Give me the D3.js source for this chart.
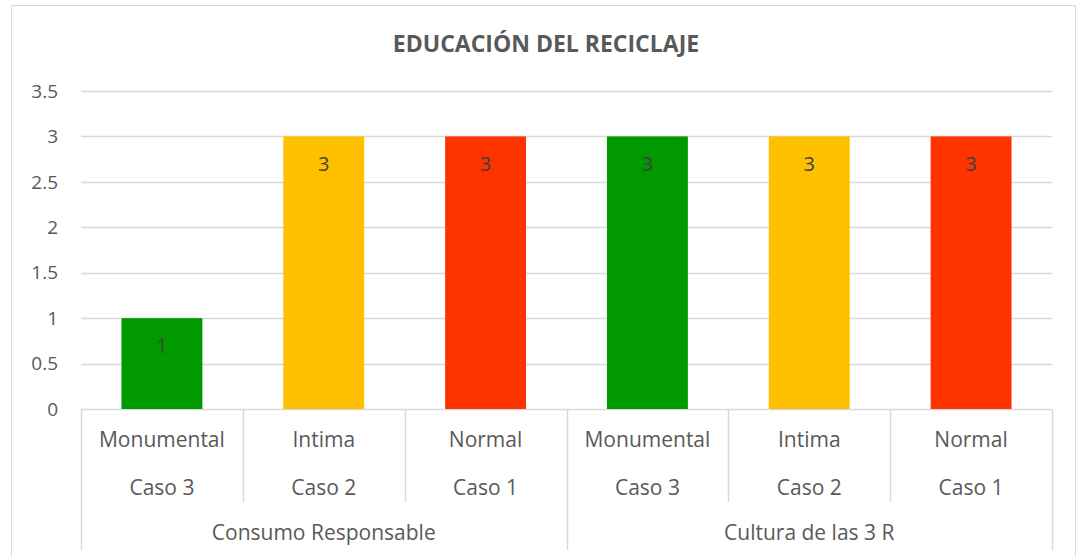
<!DOCTYPE html>
<html>
<head>
<meta charset="utf-8">
<script src="https://cdn.jsdelivr.net/npm/d3@7"></script>
<style>
  body { margin: 0; background: #fff; }
  text { font-family: "Open Sans", sans-serif; fill: #595959; }
</style>
</head>
<body>
<div class="grp"></div>
<script>
// data
var groups = ["Consumo Responsable", "Cultura de las 3 R"];
var tipos = ["Monumental", "Intima", "Normal"];
var casos = ["Caso 3", "Caso 2", "Caso 1"];
var values = [1, 3, 3, 3, 3, 3];
var colors = ["#009900", "#FFC000", "#FF3300"];
var yTicks = [0, 0.5, 1, 1.5, 2, 2.5, 3, 3.5];

var width = 1078, height = 557;
var plotLeft = 81, plotRight = 1052, plotTop = 91, plotBottom = 409;

var svg = d3.select(".grp").append("svg")
    .attr("width", width)
    .attr("height", height);

// chart border
svg.append("rect")
    .attr("x", 11.5).attr("y", 5.5)
    .attr("width", 1064).attr("height", 560)
    .attr("fill", "none").attr("stroke", "#d9d9d9");

svg.append("text")
    .attr("x", 546).attr("y", 52)
    .attr("text-anchor", "middle")
    .style("font-size", "23px").style("font-weight", "bold")
    .text("EDUCACIÓN DEL RECICLAJE");

var rows = [];
groups.forEach(function (g, gi) {
    tipos.forEach(function (t, ti) {
        rows.push({ key: gi + "-" + ti, group: g, tipo: t, caso: casos[ti], value: values[gi * 3 + ti], color: colors[ti] });
    });
});

var x = d3.scaleBand().domain(rows.map(function (d) { return d.key; }))
    .range([plotLeft, plotRight]).paddingInner(0.5).paddingOuter(0.25);
var y = d3.scaleLinear().domain([0, 3.5]).range([plotBottom, plotTop]);

// gridlines
svg.append("g").selectAll("line").data(yTicks).enter().append("line")
    .attr("x1", plotLeft).attr("x2", plotRight)
    .attr("y1", function (d) { return Math.round(y(d)) + 0.5; })
    .attr("y2", function (d) { return Math.round(y(d)) + 0.5; })
    .attr("stroke", "#d9d9d9").attr("stroke-width", 1.5);

svg.append("g").selectAll("text").data(yTicks).enter().append("text")
    .attr("x", 58).attr("y", function (d) { return y(d); })
    .attr("dy", "0.35em").attr("text-anchor", "end")
    .style("font-size", "19px")
    .text(function (d) { return d; });

// bars
svg.append("g").selectAll("rect").data(rows).enter().append("rect")
    .attr("x", function (d) { return x(d.key); })
    .attr("width", x.bandwidth())
    .attr("y", function (d) { return y(d.value); })
    .attr("height", function (d) { return y(0) - y(d.value); })
    .attr("fill", function (d) { return d.color; });

svg.append("g").selectAll("text").data(rows).enter().append("text")
    .attr("x", function (d) { return x(d.key) + x.bandwidth() / 2; })
    .attr("y", function (d) { return y(d.value) + 28; })
    .attr("dy", "0.35em").attr("text-anchor", "middle")
    .style("font-size", "20px").style("fill", "#404040")
    .text(function (d) { return d.value; });

// multi-level category axis
var step = x.step();
var ax = svg.append("g");
rows.forEach(function (d, i) {
    var x0 = plotLeft + i * step;
    var isGroup = i % 3 === 0;
    ax.append("line")
        .attr("x1", Math.round(x0) + 0.5).attr("x2", Math.round(x0) + 0.5)
        .attr("y1", plotBottom).attr("y2", isGroup ? 550 : 502)
        .attr("stroke", "#d9d9d9").attr("stroke-width", 1.5);
    ax.append("text")
        .attr("x", x0 + step / 2).attr("y", 440)
        .attr("dy", "0.35em").attr("text-anchor", "middle")
        .style("font-size", "21px").text(d.tipo);
    ax.append("text")
        .attr("x", x0 + step / 2).attr("y", 488)
        .attr("dy", "0.35em").attr("text-anchor", "middle")
        .style("font-size", "21px").text(d.caso);
});
ax.append("line")
    .attr("x1", plotRight + 0.5).attr("x2", plotRight + 0.5)
    .attr("y1", plotBottom).attr("y2", 550)
    .attr("stroke", "#d9d9d9").attr("stroke-width", 1.5);
groups.forEach(function (g, gi) {
    ax.append("text")
        .attr("x", plotLeft + (gi * 3 + 1.5) * step).attr("y", 533)
        .attr("dy", "0.35em").attr("text-anchor", "middle")
        .style("font-size", "21px").text(g);
});
</script>
</body>
</html>
